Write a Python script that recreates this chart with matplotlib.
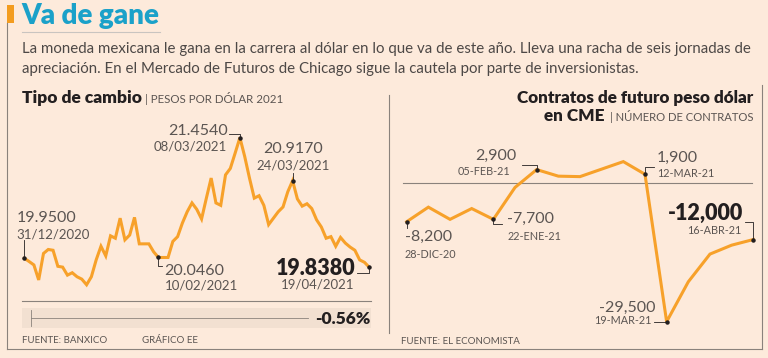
import matplotlib
matplotlib.use("Agg")
import matplotlib.pyplot as plt
from matplotlib.lines import Line2D
from matplotlib.patches import Rectangle

W, H = 768, 358

# Tipo de cambio, pesos por dolar (business days 31/12/2020 .. 19/04/2021)
fx_values = [
    19.950, 19.910, 19.867, 19.680, 20.010, 20.060, 20.050, 19.850, 19.840,
    19.740, 19.770, 19.720, 19.690, 19.620, 19.720, 19.930, 20.100, 19.980,
    20.230, 20.200, 20.450, 20.180, 20.240, 20.460, 20.130, 20.130, 20.130,
    20.030, 19.960, 19.960, 19.960, 20.160, 20.220, 20.390, 20.530, 20.640,
    20.560, 20.440, 20.700, 20.950, 20.640, 20.610, 20.990, 21.070, 21.260,
    21.454, 21.220, 20.950, 20.700, 20.730, 20.610, 20.370, 20.450, 20.530,
    20.590, 20.780, 20.917, 20.690, 20.600, 20.630, 20.570, 20.430, 20.340,
    20.200, 20.220, 20.100, 20.210, 20.140, 20.090, 20.050, 19.930, 19.900,
    19.838,
]
fx_days = list(range(len(fx_values)))
fx_marks = [0, 28, 45, 56, 72]
fx_mark_values = ["19.9500", "20.0460", "21.4540", "20.9170", "19.8380"]
fx_mark_dates = ["31/12/2020", "10/02/2021", "08/03/2021", "24/03/2021", "19/04/2021"]
fx_change = "-0.56%"

# Contratos de futuro peso-dolar en CME (semanal)
cme_values = [
    -8200, -5100, -7700, -5400, -7700, -900, 2900, 1500, 1400, 3000, 4600,
    1900, -29500, -21000, -15100, -13200, -12000,
]
cme_weeks = list(range(len(cme_values)))
cme_marks = [0, 4, 6, 11, 12, 16]
cme_mark_values = ["-8,200", "-7,700", "2,900", "1,900", "-29,500", "-12,000"]
cme_mark_dates = ["28-DIC-20", "22-ENE-21", "05-FEB-21", "12-MAR-21", "19-MAR-21", "16-ABR-21"]

BG = "#fdeadb"
ORANGE = "#f7a12a"
DARK = "#231f20"
GREY = "#5b5552"
LINE = "#8a827c"
FONT = "Lato"

plt.rcParams["font.family"] = [FONT, "DejaVu Sans"]

fig = plt.figure(figsize=(W / 100, H / 100), dpi=100)
fig.patch.set_facecolor(BG)


def fpos(x, y):
    return x / W, 1 - y / H


def ftext(x, y, s, **kw):
    kw.setdefault("va", "center")
    kw.setdefault("color", GREY)
    return fig.text(x / W, 1 - y / H, s, **kw)


def fline(xs, ys, color=LINE, lw=0.8):
    fig.add_artist(Line2D([x / W for x in xs], [1 - y / H for y in ys],
                          transform=fig.transFigure, color=color, lw=lw))


def make_axes(x0, x1, y0, y1):
    ax = fig.add_axes([x0 / W, 1 - y1 / H, (x1 - x0) / W, (y1 - y0) / H])
    ax.set_facecolor("none")
    ax.axis("off")
    return ax


def to_img(ax, x, y):
    dx, dy = ax.transData.transform((x, y))
    return dx, H - dy


def callout(ax, x, y, leader, value, date, vdx, vdy, ddx, ddy, ha,
            vsize=11.5, vweight="normal", vcolor=GREY, dsize=9.5):
    px, py = to_img(ax, x, y)
    fline([px + a for a, b in leader], [py + b for a, b in leader], color=DARK, lw=0.6)
    ax.plot(x, y, "o", color=DARK, ms=2.2, zorder=5)
    ftext(px + vdx, py + vdy, value, ha=ha, fontsize=vsize, fontweight=vweight, color=vcolor)
    ftext(px + ddx, py + ddy, date, ha=ha, fontsize=dsize, color=GREY)


# header
fig.add_artist(Rectangle(fpos(6.5, 23), 7.5 / W, 18 / H, transform=fig.transFigure,
                         color="#f39c1f", lw=0))
ftext(21, 16, "Va de gane", fontsize=20, fontweight="heavy", color="#1ba1c9")
fline([22, 160], [32, 32], color="#c9c4c0", lw=0.8)
ftext(22, 48.5, "La moneda mexicana le gana en la carrera al dólar en lo que va de este año. "
      "Lleva una racha de seis jornadas de", fontsize=10.8, color="#4d4846")
ftext(22, 68.5, "apreciación. En el Mercado de Futuros de Chicago sigue la cautela por parte "
      "de inversionistas.", fontsize=10.8, color="#4d4846")

# frame lines
fline([6.7, 6.7], [23, 349], color=LINE, lw=0.8)
fline([6.7, 761.5], [349, 349], color=LINE, lw=0.8)
fline([389.3, 389.3], [95, 333], color=LINE, lw=0.8)
fline([761.5, 761.5], [85, 349], color=LINE, lw=0.8)

# left panel titles
ftext(22, 98, "Tipo de cambio", fontsize=12.5, fontweight="heavy", color=DARK)
ftext(145, 98.5, "| PESOS POR DÓLAR 2021", fontsize=8.3, color=GREY)

# right panel titles
ftext(753, 98, "Contratos de futuro peso dólar", ha="right", fontsize=12.3,
      fontweight="heavy", color=DARK)
ftext(753, 116.5, "| NÚMERO DE CONTRATOS", ha="right", fontsize=8.1, color=GREY)
ftext(604, 116, "en CME", ha="right", fontsize=12.3, fontweight="heavy", color=DARK)

# ---- left chart ----
axl = make_axes(20, 375, 120, 300)
axl.set_xlim(-0.9, 73.2)
axl.set_ylim(19.43, 21.674)
axl.plot(fx_days, fx_values, color=ORANGE, lw=2.2, solid_joinstyle="miter", zorder=3)

lx = [fx_days[i] for i in fx_marks]
ly = [fx_values[i] for i in fx_marks]
callout(axl, lx[0], ly[0], [(0, 0), (0, -18)], fx_mark_values[0], fx_mark_dates[0],
        -8, -40.5, -8, -24, "left")
callout(axl, lx[1], ly[1], [(0, 0), (0, 9), (4, 9)], fx_mark_values[1], fx_mark_dates[1],
        6, 13.5, 6, 28.5, "left")
callout(axl, lx[2], ly[2], [(0, 0), (0, -4), (-11, -4)], fx_mark_values[2], fx_mark_dates[2],
        -12, -7, -13, 8.5, "right")
callout(axl, lx[3], ly[3], [(0, 0), (0, -8)], fx_mark_values[3], fx_mark_dates[3],
        0.5, -31.5, 0.5, -15.5, "center")
callout(axl, lx[4], ly[4], [(0, 0), (0, 6), (-12, 6)], fx_mark_values[4], fx_mark_dates[4],
        -14, 1.5, -15, 17.5, "right", vsize=15.5, vweight="heavy", vcolor=DARK)

# change band
fline([22, 371], [301, 301], color=LINE, lw=0.8)
fig.add_artist(Rectangle(fpos(22, 328), 349 / W, 20 / H, transform=fig.transFigure,
                         color="#f2e0d1", lw=0))
fline([31, 31], [310, 326], color=LINE, lw=0.6)
fline([31, 308], [318, 318], color=LINE, lw=0.6)
ftext(371, 319, fx_change, ha="right", fontsize=12.5, fontweight="heavy", color=DARK)
ftext(22, 340.5, "FUENTE: BANXICO", fontsize=7, color=GREY)
ftext(142, 340.5, "GRÁFICO EE", fontsize=7, color=GREY)

# ---- right chart ----
axr = make_axes(400, 760, 140, 330)
axr.set_xlim(-0.31, 16.31)
axr.set_ylim(-31267, 9201)
axr.plot([-0.17, 15.95], [0, 0], color=LINE, lw=0.8, zorder=1)
axr.plot(cme_weeks, cme_values, color=ORANGE, lw=2.2, solid_joinstyle="miter", zorder=3)

rx = [cme_weeks[i] for i in cme_marks]
ry = [cme_values[i] for i in cme_marks]
rkw = dict(vsize=11.5, dsize=7.8)
callout(axr, rx[0], ry[0], [(0, 0), (0, 6)], cme_mark_values[0], cme_mark_dates[0],
        -2, 15, -2, 32.5, "left", **rkw)
callout(axr, rx[1], ry[1], [(0, 0), (0, 5), (9, 5)], cme_mark_values[1], cme_mark_dates[1],
        14, 0, 14, 16.7, "left", **rkw)
callout(axr, rx[2], ry[2], [(0, 0), (0, -5), (-15, -5)], cme_mark_values[2], cme_mark_dates[2],
        -20, -14, -26, 1.7, "right", **rkw)
callout(axr, rx[3], ry[3], [(0, 0), (0, -7), (9, -7)], cme_mark_values[3], cme_mark_dates[3],
        12, -16.3, 12, -0.7, "left", **rkw)
callout(axr, rx[4], ry[4], [(0, 0), (-13, 0)], cme_mark_values[4], cme_mark_dates[4],
        -11, -14, -15, -1, "right", **rkw)
callout(axr, rx[5], ry[5], [(0, 0), (0, -18), (-8, -18)], cme_mark_values[5], cme_mark_dates[5],
        -10, -26, -12, -9.3, "right", vsize=15.5, vweight="heavy", vcolor=DARK, dsize=7.8)

ftext(401, 341, "FUENTE: EL ECONOMISTA", fontsize=7, color=GREY)

fig.savefig("out.png", dpi=100, facecolor=BG)
